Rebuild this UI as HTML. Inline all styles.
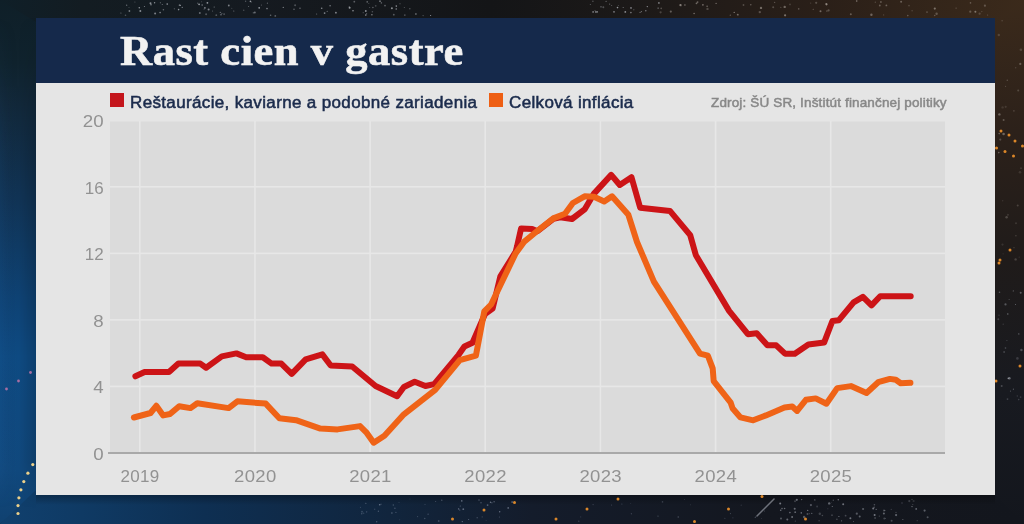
<!DOCTYPE html>
<html lang="sk"><head><meta charset="utf-8"><title>Rast cien v gastre</title>
<style>
html,body{margin:0;padding:0}
body{width:1024px;height:524px;overflow:hidden;position:relative;background:#14171f;font-family:"Liberation Sans",sans-serif}
#bg{position:absolute;left:0;top:0;width:1024px;height:524px}
#card{position:absolute;left:36px;top:18px;width:959px;height:477px;background:#e5e5e5}
#hdr{position:absolute;left:0;top:0;width:959px;height:65px;background:#15294b}
#title{position:absolute;left:84px;top:9px;margin:0;font-family:"Liberation Serif",serif;font-weight:bold;font-size:42px;line-height:48px;color:#f2f2f2;white-space:nowrap;transform-origin:0 50%;transform:scaleX(1.06);letter-spacing:0.5px;-webkit-text-stroke:0.6px #f2f2f2}
.lg{position:absolute;top:75px;font-size:17px;line-height:20px;color:#1b2b4c;white-space:nowrap;letter-spacing:0.35px;-webkit-text-stroke:0.55px #1b2b4c;transform-origin:0 50%}
.sq{position:absolute;top:75px;width:14px;height:14px}
#src{position:absolute;top:77px;left:675px;font-size:13.5px;line-height:16px;color:#888888;letter-spacing:0.15px;-webkit-text-stroke:0.5px #888888;white-space:nowrap;transform-origin:0 50%}
#chart{position:absolute;left:0;top:0;width:1024px;height:524px}
#chart text{font-family:"Liberation Sans",sans-serif;font-size:17px;fill:#929292}
</style></head><body>
<svg id="bg" viewBox="0 0 1024 524">
<defs>
<linearGradient id="gl" x1="0" y1="0" x2="0" y2="1"><stop offset="0" stop-color="#0f1f28"/><stop offset=".12" stop-color="#10232e"/><stop offset=".2" stop-color="#12283a"/><stop offset=".38" stop-color="#113456"/><stop offset=".57" stop-color="#0f4375"/><stop offset=".68" stop-color="#0f4b83"/><stop offset=".9" stop-color="#11497e"/><stop offset="1" stop-color="#104170"/></linearGradient>
<linearGradient id="glh" x1="0" y1="0" x2="1" y2="0"><stop offset="0" stop-color="#2a6cb0" stop-opacity=".08"/><stop offset=".5" stop-color="#000" stop-opacity="0"/><stop offset="1" stop-color="#000" stop-opacity=".16"/></linearGradient>
<linearGradient id="gt" x1="0" y1="0" x2="1" y2="0"><stop offset="0" stop-color="#0f1f28"/><stop offset=".08" stop-color="#131c22"/><stop offset=".25" stop-color="#151a20"/><stop offset=".48" stop-color="#141517"/><stop offset=".62" stop-color="#1c1918"/><stop offset=".8" stop-color="#2a1f18"/><stop offset="1" stop-color="#3b2a1b"/></linearGradient>
<linearGradient id="gr" x1="0" y1="0" x2="0" y2="1"><stop offset="0" stop-color="#3b2a1b"/><stop offset=".25" stop-color="#2c211a"/><stop offset=".5" stop-color="#1f1b1a"/><stop offset=".75" stop-color="#181a20"/><stop offset="1" stop-color="#13161d"/></linearGradient>
<linearGradient id="gb" x1="0" y1="0" x2="1" y2="0"><stop offset="0" stop-color="#10406e"/><stop offset=".08" stop-color="#0f3a64"/><stop offset=".2" stop-color="#0e2f52"/><stop offset=".38" stop-color="#11253d"/><stop offset=".52" stop-color="#141c2b"/><stop offset=".75" stop-color="#14171f"/><stop offset="1" stop-color="#13161d"/></linearGradient>
<linearGradient id="sh" x1="0" y1="0" x2="0" y2="1"><stop offset="0" stop-color="#000" stop-opacity=".28"/><stop offset="1" stop-color="#000" stop-opacity="0"/></linearGradient>
<linearGradient id="mkg" x1="0" y1="0" x2="0" y2="1"><stop offset="0.03" stop-color="#000"/><stop offset=".3" stop-color="#fff"/><stop offset=".88" stop-color="#fff"/><stop offset=".97" stop-color="#000"/></linearGradient>
<mask id="mk"><rect x="0" y="0" width="36" height="524" fill="url(#mkg)"/></mask>
</defs>
<rect x="0" y="0" width="1024" height="524" fill="url(#gt)"/>
<polygon points="1024,0 1024,524 990,524 990,30" fill="url(#gr)"/>
<polygon points="0,524 1024,524 1024,524 990,490 30,490" fill="url(#gb)"/>
<polygon points="0,0 36,22 36,490 0,524" fill="url(#gl)"/>
<rect x="0" y="0" width="36" height="524" fill="url(#glh)" mask="url(#mk)"/>
<rect x="36" y="495" width="959" height="10" fill="url(#sh)"/>
<circle cx="197.7" cy="3.3" r="0.8" fill="#cfd3da" opacity="0.28"/><circle cx="248.6" cy="6.5" r="0.5" fill="#cfd3da" opacity="0.48"/><circle cx="129.0" cy="7.5" r="0.5" fill="#cfd3da" opacity="0.29"/><circle cx="221.9" cy="13.4" r="0.6" fill="#cfd3da" opacity="0.35"/><circle cx="270.6" cy="15.2" r="0.8" fill="#cfd3da" opacity="0.43"/><circle cx="354.3" cy="1.7" r="0.9" fill="#cfd3da" opacity="0.38"/><circle cx="154.6" cy="2.8" r="0.7" fill="#cfd3da" opacity="0.62"/><circle cx="163.4" cy="9.7" r="0.8" fill="#cfd3da" opacity="0.42"/><circle cx="251.5" cy="1.9" r="0.5" fill="#cfd3da" opacity="0.34"/><circle cx="283.3" cy="7.4" r="0.7" fill="#cfd3da" opacity="0.51"/><circle cx="228.8" cy="5.5" r="0.9" fill="#cfd3da" opacity="0.56"/><circle cx="178.6" cy="9.6" r="0.8" fill="#cfd3da" opacity="0.64"/><circle cx="295.1" cy="5.3" r="1.0" fill="#cfd3da" opacity="0.30"/><circle cx="220.3" cy="12.4" r="0.6" fill="#cfd3da" opacity="0.47"/><circle cx="129.4" cy="11.0" r="0.9" fill="#cfd3da" opacity="0.51"/><circle cx="330.1" cy="5.7" r="0.8" fill="#cfd3da" opacity="0.52"/><circle cx="259.2" cy="7.8" r="0.9" fill="#cfd3da" opacity="0.68"/><circle cx="233.8" cy="11.0" r="0.5" fill="#cfd3da" opacity="0.57"/><circle cx="275.3" cy="15.9" r="0.9" fill="#cfd3da" opacity="0.38"/><circle cx="212.6" cy="11.0" r="0.5" fill="#cfd3da" opacity="0.46"/><circle cx="160.3" cy="2.8" r="0.5" fill="#cfd3da" opacity="0.60"/><circle cx="151.0" cy="4.7" r="0.7" fill="#cfd3da" opacity="0.64"/><circle cx="139.3" cy="7.7" r="0.8" fill="#cfd3da" opacity="0.65"/><circle cx="316.6" cy="14.0" r="0.6" fill="#cfd3da" opacity="0.44"/><circle cx="206.1" cy="14.3" r="1.0" fill="#cfd3da" opacity="0.32"/><circle cx="162.3" cy="4.5" r="0.6" fill="#cfd3da" opacity="0.47"/><circle cx="261.4" cy="4.9" r="0.5" fill="#cfd3da" opacity="0.44"/><circle cx="208.6" cy="9.5" r="1.0" fill="#cfd3da" opacity="0.56"/><circle cx="243.7" cy="10.3" r="0.8" fill="#cfd3da" opacity="0.27"/><circle cx="335.9" cy="12.7" r="0.9" fill="#cfd3da" opacity="0.61"/><circle cx="214.2" cy="7.0" r="0.6" fill="#cfd3da" opacity="0.54"/><circle cx="134.9" cy="2.0" r="0.6" fill="#cfd3da" opacity="0.32"/><circle cx="201.6" cy="1.8" r="0.5" fill="#cfd3da" opacity="0.32"/><circle cx="144.4" cy="6.5" r="0.5" fill="#cfd3da" opacity="0.64"/><circle cx="267.4" cy="3.2" r="0.6" fill="#cfd3da" opacity="0.41"/><circle cx="207.4" cy="2.8" r="0.9" fill="#cfd3da" opacity="0.70"/><circle cx="231.8" cy="8.3" r="0.5" fill="#cfd3da" opacity="0.30"/><circle cx="202.2" cy="5.0" r="0.9" fill="#cfd3da" opacity="0.32"/><circle cx="125.5" cy="15.3" r="0.8" fill="#cfd3da" opacity="0.32"/><circle cx="250.4" cy="1.4" r="0.8" fill="#cfd3da" opacity="0.69"/><circle cx="327.2" cy="11.4" r="0.6" fill="#cfd3da" opacity="0.42"/><circle cx="160.1" cy="12.6" r="0.8" fill="#cfd3da" opacity="0.60"/><circle cx="199.1" cy="4.3" r="0.9" fill="#cfd3da" opacity="0.69"/><circle cx="324.6" cy="13.1" r="0.9" fill="#cfd3da" opacity="0.58"/><circle cx="174.4" cy="8.8" r="0.7" fill="#cfd3da" opacity="0.26"/><circle cx="126.7" cy="5.2" r="0.6" fill="#cfd3da" opacity="0.56"/><circle cx="349.6" cy="7.7" r="1.0" fill="#cfd3da" opacity="0.69"/><circle cx="349.2" cy="6.5" r="0.6" fill="#cfd3da" opacity="0.35"/><circle cx="167.2" cy="4.1" r="0.8" fill="#cfd3da" opacity="0.66"/><circle cx="321.7" cy="8.2" r="0.8" fill="#cfd3da" opacity="0.61"/><circle cx="140.3" cy="10.9" r="1.0" fill="#cfd3da" opacity="0.60"/><circle cx="300.0" cy="8.2" r="0.6" fill="#cfd3da" opacity="0.61"/><circle cx="199.8" cy="13.0" r="1.0" fill="#cfd3da" opacity="0.43"/><circle cx="216.3" cy="15.2" r="0.9" fill="#cfd3da" opacity="0.33"/><circle cx="150.5" cy="3.3" r="1.0" fill="#cfd3da" opacity="0.61"/><circle cx="155.1" cy="13.4" r="1.0" fill="#cfd3da" opacity="0.55"/><circle cx="204.1" cy="9.2" r="0.6" fill="#cfd3da" opacity="0.26"/><circle cx="353.0" cy="10.7" r="0.8" fill="#cfd3da" opacity="0.67"/><circle cx="224.1" cy="14.1" r="0.9" fill="#cfd3da" opacity="0.34"/><circle cx="180.4" cy="5.4" r="0.6" fill="#cfd3da" opacity="0.51"/><circle cx="182.2" cy="7.3" r="0.6" fill="#cfd3da" opacity="0.66"/><circle cx="204.9" cy="7.9" r="0.8" fill="#cfd3da" opacity="0.66"/><circle cx="221.0" cy="14.8" r="0.8" fill="#cfd3da" opacity="0.49"/><circle cx="245.6" cy="1.3" r="0.7" fill="#cfd3da" opacity="0.33"/><circle cx="120.9" cy="13.0" r="0.6" fill="#cfd3da" opacity="0.46"/><circle cx="294.0" cy="9.3" r="0.7" fill="#cfd3da" opacity="0.48"/><circle cx="253.3" cy="12.8" r="0.6" fill="#cfd3da" opacity="0.50"/><circle cx="179.6" cy="5.2" r="0.9" fill="#cfd3da" opacity="0.48"/><circle cx="254.8" cy="12.4" r="1.0" fill="#cfd3da" opacity="0.45"/><circle cx="267.0" cy="8.6" r="0.8" fill="#cfd3da" opacity="0.56"/><circle cx="396.2" cy="9.0" r="0.7" fill="#cfd3da" opacity="0.67"/><circle cx="415.9" cy="14.1" r="1.0" fill="#cfd3da" opacity="0.37"/><circle cx="404.8" cy="15.1" r="0.9" fill="#cfd3da" opacity="0.31"/><circle cx="369.7" cy="7.6" r="0.5" fill="#cfd3da" opacity="0.36"/><circle cx="365.8" cy="11.0" r="0.9" fill="#cfd3da" opacity="0.65"/><circle cx="372.4" cy="11.7" r="0.8" fill="#cfd3da" opacity="0.31"/><circle cx="430.6" cy="15.5" r="0.6" fill="#cfd3da" opacity="0.68"/><circle cx="391.9" cy="8.3" r="1.0" fill="#cfd3da" opacity="0.62"/><circle cx="372.9" cy="7.5" r="0.8" fill="#cfd3da" opacity="0.40"/><circle cx="375.7" cy="5.8" r="0.9" fill="#cfd3da" opacity="0.26"/><circle cx="404.3" cy="7.6" r="0.5" fill="#cfd3da" opacity="0.40"/><circle cx="409.9" cy="8.7" r="0.5" fill="#cfd3da" opacity="0.69"/><circle cx="423.1" cy="15.6" r="0.6" fill="#cfd3da" opacity="0.37"/><circle cx="363.2" cy="12.7" r="0.6" fill="#cfd3da" opacity="0.31"/><circle cx="393.8" cy="14.7" r="0.9" fill="#cfd3da" opacity="0.37"/><circle cx="371.9" cy="14.8" r="0.8" fill="#cfd3da" opacity="0.57"/><circle cx="367.2" cy="1.9" r="0.8" fill="#cfd3da" opacity="0.44"/><circle cx="365.8" cy="15.1" r="0.8" fill="#cfd3da" opacity="0.61"/><circle cx="366.7" cy="13.8" r="0.5" fill="#cfd3da" opacity="0.64"/><circle cx="396.3" cy="6.1" r="0.8" fill="#cfd3da" opacity="0.67"/><circle cx="381.4" cy="2.9" r="0.8" fill="#cfd3da" opacity="0.36"/><circle cx="368.8" cy="3.4" r="0.5" fill="#cfd3da" opacity="0.34"/><circle cx="385.0" cy="5.6" r="0.9" fill="#cfd3da" opacity="0.38"/><circle cx="400.0" cy="3.7" r="0.7" fill="#cfd3da" opacity="0.26"/><circle cx="380.0" cy="1.2" r="0.9" fill="#cfd3da" opacity="0.50"/><circle cx="603.3" cy="7.2" r="1.0" fill="#cfd3da" opacity="0.30"/><circle cx="647.3" cy="6.6" r="0.7" fill="#cfd3da" opacity="0.63"/><circle cx="617.5" cy="7.6" r="0.8" fill="#cfd3da" opacity="0.69"/><circle cx="614.0" cy="11.8" r="0.9" fill="#cfd3da" opacity="0.54"/><circle cx="618.3" cy="5.5" r="0.5" fill="#cfd3da" opacity="0.31"/><circle cx="595.0" cy="10.6" r="0.6" fill="#cfd3da" opacity="0.32"/><circle cx="595.9" cy="11.9" r="0.9" fill="#cfd3da" opacity="0.55"/><circle cx="609.7" cy="4.1" r="0.6" fill="#cfd3da" opacity="0.46"/><circle cx="601.0" cy="6.8" r="0.6" fill="#cfd3da" opacity="0.68"/><circle cx="658.1" cy="8.1" r="0.6" fill="#cfd3da" opacity="0.68"/><circle cx="611.7" cy="5.6" r="0.5" fill="#cfd3da" opacity="0.42"/><circle cx="623.2" cy="7.5" r="0.6" fill="#cfd3da" opacity="0.48"/><circle cx="590.3" cy="4.4" r="0.5" fill="#cfd3da" opacity="0.43"/><circle cx="592.9" cy="1.3" r="0.7" fill="#cfd3da" opacity="0.35"/><circle cx="631.0" cy="7.9" r="0.9" fill="#cfd3da" opacity="0.55"/><circle cx="640.1" cy="12.4" r="0.7" fill="#cfd3da" opacity="0.40"/><circle cx="658.9" cy="2.9" r="0.9" fill="#cfd3da" opacity="0.54"/><circle cx="593.1" cy="11.9" r="0.9" fill="#cfd3da" opacity="0.53"/><circle cx="641.4" cy="11.6" r="0.6" fill="#cfd3da" opacity="0.49"/><circle cx="625.3" cy="11.9" r="0.9" fill="#cfd3da" opacity="0.62"/><circle cx="630.9" cy="12.6" r="0.8" fill="#cfd3da" opacity="0.56"/><circle cx="606.1" cy="1.4" r="0.6" fill="#cfd3da" opacity="0.41"/><circle cx="597.3" cy="11.9" r="0.8" fill="#cfd3da" opacity="0.53"/><circle cx="633.8" cy="9.8" r="0.7" fill="#cfd3da" opacity="0.25"/><circle cx="645.8" cy="10.7" r="0.8" fill="#cfd3da" opacity="0.49"/><circle cx="880.9" cy="2.0" r="1.0" fill="#d8d0c8" opacity="0.29"/><circle cx="684.9" cy="5.0" r="1.0" fill="#d8d0c8" opacity="0.27"/><circle cx="907.8" cy="15.6" r="0.8" fill="#d8d0c8" opacity="0.33"/><circle cx="820.5" cy="11.3" r="1.0" fill="#d8d0c8" opacity="0.42"/><circle cx="875.3" cy="2.2" r="0.6" fill="#d8d0c8" opacity="0.29"/><circle cx="909.0" cy="5.6" r="0.9" fill="#d8d0c8" opacity="0.20"/><circle cx="680.3" cy="5.0" r="1.0" fill="#d8d0c8" opacity="0.44"/><circle cx="886.4" cy="5.4" r="0.9" fill="#d8d0c8" opacity="0.36"/><circle cx="816.2" cy="2.8" r="1.1" fill="#d8d0c8" opacity="0.27"/><circle cx="987.7" cy="15.0" r="0.5" fill="#d8d0c8" opacity="0.36"/><circle cx="934.7" cy="15.5" r="0.8" fill="#d8d0c8" opacity="0.29"/><circle cx="730.3" cy="15.2" r="0.6" fill="#d8d0c8" opacity="0.40"/><circle cx="707.5" cy="8.9" r="1.2" fill="#d8d0c8" opacity="0.25"/><circle cx="934.8" cy="8.6" r="1.1" fill="#d8d0c8" opacity="0.45"/><circle cx="737.5" cy="14.5" r="0.8" fill="#d8d0c8" opacity="0.21"/><circle cx="661.2" cy="8.4" r="0.8" fill="#d8d0c8" opacity="0.31"/><circle cx="707.1" cy="6.2" r="0.7" fill="#d8d0c8" opacity="0.49"/><circle cx="660.6" cy="12.3" r="1.1" fill="#d8d0c8" opacity="0.24"/><circle cx="970.3" cy="11.7" r="1.1" fill="#d8d0c8" opacity="0.30"/><circle cx="784.7" cy="6.9" r="1.2" fill="#d8d0c8" opacity="0.41"/><circle cx="780.8" cy="7.4" r="0.7" fill="#d8d0c8" opacity="0.22"/><circle cx="694.1" cy="13.5" r="0.7" fill="#d8d0c8" opacity="0.53"/><circle cx="743.5" cy="5.0" r="0.9" fill="#d8d0c8" opacity="0.27"/><circle cx="785.1" cy="15.3" r="1.1" fill="#d8d0c8" opacity="0.48"/><circle cx="871.4" cy="14.7" r="1.2" fill="#d8d0c8" opacity="0.39"/><circle cx="901.1" cy="1.7" r="1.0" fill="#d8d0c8" opacity="0.36"/><circle cx="912.1" cy="10.7" r="0.7" fill="#d8d0c8" opacity="0.22"/><circle cx="970.5" cy="2.9" r="0.8" fill="#d8d0c8" opacity="0.32"/><circle cx="759.8" cy="12.1" r="1.2" fill="#d8d0c8" opacity="0.29"/><circle cx="879.8" cy="5.5" r="0.9" fill="#d8d0c8" opacity="0.34"/><circle cx="716.1" cy="3.4" r="0.6" fill="#d8d0c8" opacity="0.52"/><circle cx="826.5" cy="4.3" r="1.1" fill="#d8d0c8" opacity="0.55"/><circle cx="810.7" cy="3.1" r="0.6" fill="#d8d0c8" opacity="0.23"/><circle cx="774.6" cy="2.4" r="0.7" fill="#d8d0c8" opacity="0.29"/><circle cx="850.8" cy="14.3" r="1.0" fill="#d8d0c8" opacity="0.34"/><circle cx="798.7" cy="8.9" r="0.8" fill="#d8d0c8" opacity="0.32"/><circle cx="680.8" cy="5.2" r="1.2" fill="#d8d0c8" opacity="0.24"/><circle cx="828.6" cy="10.4" r="1.1" fill="#d8d0c8" opacity="0.28"/><circle cx="750.8" cy="4.7" r="0.8" fill="#d8d0c8" opacity="0.36"/><circle cx="979.6" cy="13.7" r="1.1" fill="#d8d0c8" opacity="0.21"/><circle cx="670.8" cy="11.6" r="1.1" fill="#d8d0c8" opacity="0.37"/><circle cx="856.7" cy="1.0" r="0.8" fill="#d8d0c8" opacity="0.52"/><circle cx="936.6" cy="13.8" r="1.2" fill="#d8d0c8" opacity="0.29"/><circle cx="696.5" cy="3.3" r="0.9" fill="#d8d0c8" opacity="0.44"/><circle cx="975.4" cy="11.8" r="1.0" fill="#d8d0c8" opacity="0.47"/><circle cx="813.2" cy="9.3" r="0.5" fill="#d8d0c8" opacity="0.47"/><circle cx="737.9" cy="14.8" r="1.0" fill="#d8d0c8" opacity="0.31"/><circle cx="702.9" cy="4.8" r="0.9" fill="#d8d0c8" opacity="0.44"/><circle cx="697.6" cy="2.1" r="0.9" fill="#d8d0c8" opacity="0.40"/><circle cx="790.0" cy="4.4" r="0.9" fill="#d8d0c8" opacity="0.20"/><circle cx="761.0" cy="7.9" r="1.2" fill="#d8d0c8" opacity="0.43"/><circle cx="956.1" cy="8.1" r="0.7" fill="#d8d0c8" opacity="0.29"/><circle cx="981.8" cy="11.6" r="0.7" fill="#d8d0c8" opacity="0.21"/><circle cx="826.9" cy="11.1" r="0.8" fill="#d8d0c8" opacity="0.29"/><circle cx="883.6" cy="14.9" r="0.7" fill="#d8d0c8" opacity="0.21"/><circle cx="773.2" cy="7.3" r="1.0" fill="#d8d0c8" opacity="0.27"/><circle cx="927.0" cy="12.1" r="0.9" fill="#d8d0c8" opacity="0.27"/><circle cx="984.9" cy="5.7" r="1.1" fill="#d8d0c8" opacity="0.28"/><circle cx="734.2" cy="12.4" r="0.7" fill="#d8d0c8" opacity="0.53"/><circle cx="826.1" cy="3.8" r="0.7" fill="#d8d0c8" opacity="0.35"/><circle cx="1014.0" cy="247.7" r="0.6" fill="#d8d0c8" opacity="0.23"/><circle cx="1003.1" cy="253.8" r="0.6" fill="#d8d0c8" opacity="0.13"/><circle cx="999.4" cy="114.4" r="1.2" fill="#d8d0c8" opacity="0.37"/><circle cx="1015.6" cy="259.4" r="1.2" fill="#d8d0c8" opacity="0.21"/><circle cx="1002.5" cy="244.6" r="1.1" fill="#d8d0c8" opacity="0.13"/><circle cx="1013.9" cy="110.9" r="0.8" fill="#d8d0c8" opacity="0.21"/><circle cx="1002.1" cy="20.7" r="0.7" fill="#d8d0c8" opacity="0.22"/><circle cx="1020.9" cy="49.7" r="1.3" fill="#d8d0c8" opacity="0.18"/><circle cx="1006.6" cy="217.2" r="1.2" fill="#d8d0c8" opacity="0.24"/><circle cx="999.2" cy="133.6" r="0.8" fill="#d8d0c8" opacity="0.38"/><circle cx="1002.6" cy="107.4" r="1.2" fill="#d8d0c8" opacity="0.13"/><circle cx="1007.9" cy="214.8" r="1.1" fill="#d8d0c8" opacity="0.13"/><circle cx="998.8" cy="35.0" r="1.2" fill="#d8d0c8" opacity="0.19"/><circle cx="1015.9" cy="235.7" r="0.8" fill="#d8d0c8" opacity="0.20"/><circle cx="1021.0" cy="168.1" r="0.7" fill="#d8d0c8" opacity="0.32"/><circle cx="1005.6" cy="86.2" r="0.5" fill="#d8d0c8" opacity="0.33"/><circle cx="1020.0" cy="172.2" r="1.3" fill="#d8d0c8" opacity="0.13"/><circle cx="1003.6" cy="134.0" r="1.3" fill="#d8d0c8" opacity="0.39"/><circle cx="1007.3" cy="80.3" r="0.8" fill="#d8d0c8" opacity="0.26"/><circle cx="1020.3" cy="63.9" r="1.1" fill="#d8d0c8" opacity="0.33"/><circle cx="1017.7" cy="205.5" r="1.0" fill="#d8d0c8" opacity="0.21"/><circle cx="1005.7" cy="106.8" r="1.1" fill="#d8d0c8" opacity="0.14"/><circle cx="1002.7" cy="200.7" r="0.7" fill="#d8d0c8" opacity="0.14"/><circle cx="998.8" cy="152.6" r="0.8" fill="#d8d0c8" opacity="0.39"/><circle cx="1019.2" cy="257.1" r="0.7" fill="#d8d0c8" opacity="0.14"/><circle cx="1000.3" cy="139.6" r="1.1" fill="#d8d0c8" opacity="0.25"/><circle cx="1003.6" cy="120.0" r="1.0" fill="#d8d0c8" opacity="0.31"/><circle cx="1016.0" cy="223.3" r="1.0" fill="#d8d0c8" opacity="0.15"/><circle cx="1018.2" cy="90.5" r="1.0" fill="#d8d0c8" opacity="0.22"/><circle cx="1015.7" cy="67.8" r="0.7" fill="#d8d0c8" opacity="0.19"/><circle cx="1001.7" cy="386.1" r="1.0" fill="#c8ccd6" opacity="0.26"/><circle cx="1007.5" cy="399.1" r="0.9" fill="#c8ccd6" opacity="0.23"/><circle cx="1017.4" cy="358.4" r="1.3" fill="#c8ccd6" opacity="0.19"/><circle cx="1009.4" cy="378.3" r="1.2" fill="#c8ccd6" opacity="0.47"/><circle cx="999.0" cy="315.2" r="0.6" fill="#c8ccd6" opacity="0.22"/><circle cx="1021.4" cy="350.0" r="1.2" fill="#c8ccd6" opacity="0.28"/><circle cx="1018.8" cy="333.9" r="0.7" fill="#c8ccd6" opacity="0.42"/><circle cx="1020.7" cy="292.7" r="1.0" fill="#c8ccd6" opacity="0.37"/><circle cx="1003.2" cy="324.2" r="0.6" fill="#c8ccd6" opacity="0.22"/><circle cx="1004.1" cy="351.9" r="1.0" fill="#c8ccd6" opacity="0.22"/><circle cx="998.3" cy="319.3" r="1.0" fill="#c8ccd6" opacity="0.21"/><circle cx="1005.5" cy="304.4" r="1.1" fill="#c8ccd6" opacity="0.34"/><circle cx="999.5" cy="292.2" r="0.8" fill="#c8ccd6" opacity="0.34"/><circle cx="1013.3" cy="290.9" r="0.6" fill="#c8ccd6" opacity="0.39"/><circle cx="1007.8" cy="314.0" r="0.7" fill="#c8ccd6" opacity="0.48"/><circle cx="1005.5" cy="348.0" r="0.8" fill="#c8ccd6" opacity="0.30"/><circle cx="1018.7" cy="399.6" r="0.8" fill="#c8ccd6" opacity="0.22"/><circle cx="1015.5" cy="304.4" r="0.5" fill="#c8ccd6" opacity="0.47"/><circle cx="1008.2" cy="378.4" r="0.8" fill="#c8ccd6" opacity="0.46"/><circle cx="1009.1" cy="299.5" r="0.5" fill="#c8ccd6" opacity="0.34"/><circle cx="1013.4" cy="389.2" r="0.6" fill="#c8ccd6" opacity="0.37"/><circle cx="1006.9" cy="340.5" r="0.6" fill="#c8ccd6" opacity="0.25"/><circle cx="1010.5" cy="391.1" r="0.6" fill="#c8ccd6" opacity="0.32"/><circle cx="1017.3" cy="396.0" r="0.7" fill="#c8ccd6" opacity="0.19"/><circle cx="1020.6" cy="397.1" r="0.9" fill="#c8ccd6" opacity="0.17"/><circle cx="508.2" cy="507.9" r="0.9" fill="#aeb8cc" opacity="0.45"/><circle cx="491.9" cy="502.7" r="0.8" fill="#aeb8cc" opacity="0.29"/><circle cx="424.7" cy="518.5" r="0.8" fill="#aeb8cc" opacity="0.27"/><circle cx="394.9" cy="508.2" r="0.7" fill="#aeb8cc" opacity="0.35"/><circle cx="379.7" cy="504.7" r="0.8" fill="#aeb8cc" opacity="0.56"/><circle cx="366.6" cy="511.9" r="0.8" fill="#aeb8cc" opacity="0.22"/><circle cx="494.1" cy="501.7" r="0.7" fill="#aeb8cc" opacity="0.42"/><circle cx="460.3" cy="506.0" r="0.6" fill="#aeb8cc" opacity="0.43"/><circle cx="428.1" cy="514.2" r="0.6" fill="#aeb8cc" opacity="0.38"/><circle cx="363.7" cy="513.2" r="0.6" fill="#aeb8cc" opacity="0.29"/><circle cx="482.2" cy="516.9" r="0.6" fill="#aeb8cc" opacity="0.27"/><circle cx="435.7" cy="501.5" r="0.5" fill="#aeb8cc" opacity="0.37"/><circle cx="374.7" cy="509.2" r="0.7" fill="#aeb8cc" opacity="0.22"/><circle cx="461.8" cy="500.9" r="0.8" fill="#aeb8cc" opacity="0.51"/><circle cx="441.8" cy="500.2" r="0.7" fill="#aeb8cc" opacity="0.35"/><circle cx="512.1" cy="502.1" r="0.8" fill="#aeb8cc" opacity="0.60"/><circle cx="477.1" cy="517.7" r="0.5" fill="#aeb8cc" opacity="0.59"/><circle cx="438.7" cy="521.0" r="0.9" fill="#aeb8cc" opacity="0.27"/><circle cx="486.1" cy="520.4" r="0.4" fill="#aeb8cc" opacity="0.34"/><circle cx="481.0" cy="502.7" r="0.8" fill="#aeb8cc" opacity="0.31"/><circle cx="490.5" cy="502.3" r="0.7" fill="#aeb8cc" opacity="0.57"/><circle cx="393.3" cy="505.0" r="0.7" fill="#aeb8cc" opacity="0.33"/><circle cx="365.9" cy="503.2" r="0.5" fill="#aeb8cc" opacity="0.57"/><circle cx="468.7" cy="519.6" r="0.5" fill="#aeb8cc" opacity="0.51"/><circle cx="378.4" cy="511.2" r="0.7" fill="#aeb8cc" opacity="0.34"/><circle cx="499.7" cy="511.8" r="0.7" fill="#aeb8cc" opacity="0.55"/><circle cx="376.7" cy="521.8" r="0.7" fill="#aeb8cc" opacity="0.36"/><circle cx="487.6" cy="505.1" r="0.9" fill="#aeb8cc" opacity="0.43"/><circle cx="417.6" cy="516.6" r="0.6" fill="#aeb8cc" opacity="0.27"/><circle cx="479.0" cy="500.1" r="0.8" fill="#aeb8cc" opacity="0.30"/><circle cx="462.3" cy="521.6" r="0.7" fill="#aeb8cc" opacity="0.47"/><circle cx="410.0" cy="499.0" r="0.4" fill="#aeb8cc" opacity="0.26"/><circle cx="458.6" cy="508.9" r="0.7" fill="#aeb8cc" opacity="0.56"/><circle cx="381.1" cy="504.2" r="0.7" fill="#aeb8cc" opacity="0.21"/><circle cx="360.4" cy="507.2" r="0.5" fill="#aeb8cc" opacity="0.34"/><circle cx="395.9" cy="512.4" r="0.7" fill="#aeb8cc" opacity="0.28"/><circle cx="459.8" cy="509.9" r="0.5" fill="#aeb8cc" opacity="0.57"/><circle cx="399.0" cy="502.4" r="0.4" fill="#aeb8cc" opacity="0.46"/><circle cx="499.4" cy="517.0" r="0.6" fill="#aeb8cc" opacity="0.31"/><circle cx="361.8" cy="513.8" r="0.7" fill="#aeb8cc" opacity="0.34"/><circle cx="463.3" cy="509.2" r="0.9" fill="#aeb8cc" opacity="0.49"/><circle cx="399.8" cy="519.8" r="0.4" fill="#aeb8cc" opacity="0.41"/><circle cx="425.0" cy="504.5" r="0.4" fill="#aeb8cc" opacity="0.51"/><circle cx="362.0" cy="511.7" r="0.9" fill="#aeb8cc" opacity="0.26"/><circle cx="391.9" cy="513.0" r="0.7" fill="#aeb8cc" opacity="0.46"/><circle cx="902.0" cy="503.0" r="0.7" fill="#c8ccd6" opacity="0.27"/><circle cx="787.3" cy="519.5" r="1.0" fill="#c8ccd6" opacity="0.44"/><circle cx="781.0" cy="518.4" r="1.0" fill="#c8ccd6" opacity="0.34"/><circle cx="891.3" cy="509.4" r="0.7" fill="#c8ccd6" opacity="0.19"/><circle cx="814.8" cy="499.9" r="0.7" fill="#c8ccd6" opacity="0.45"/><circle cx="884.3" cy="518.4" r="1.0" fill="#c8ccd6" opacity="0.26"/><circle cx="863.1" cy="509.0" r="1.1" fill="#c8ccd6" opacity="0.36"/><circle cx="819.8" cy="513.8" r="1.2" fill="#c8ccd6" opacity="0.24"/><circle cx="912.0" cy="499.4" r="0.7" fill="#c8ccd6" opacity="0.24"/><circle cx="891.6" cy="520.7" r="1.0" fill="#c8ccd6" opacity="0.28"/><circle cx="912.0" cy="506.6" r="0.7" fill="#c8ccd6" opacity="0.51"/><circle cx="874.6" cy="514.9" r="1.0" fill="#c8ccd6" opacity="0.54"/><circle cx="850.4" cy="518.3" r="1.0" fill="#c8ccd6" opacity="0.49"/><circle cx="845.6" cy="515.7" r="0.9" fill="#c8ccd6" opacity="0.27"/><circle cx="811.8" cy="513.3" r="0.6" fill="#c8ccd6" opacity="0.51"/><circle cx="801.7" cy="499.6" r="0.6" fill="#c8ccd6" opacity="0.52"/><circle cx="831.7" cy="502.3" r="0.5" fill="#c8ccd6" opacity="0.17"/><circle cx="883.9" cy="513.6" r="1.0" fill="#c8ccd6" opacity="0.44"/><circle cx="789.9" cy="512.6" r="0.8" fill="#c8ccd6" opacity="0.48"/><circle cx="902.9" cy="519.5" r="0.5" fill="#c8ccd6" opacity="0.50"/><circle cx="917.2" cy="520.7" r="0.6" fill="#c8ccd6" opacity="0.23"/><circle cx="796.8" cy="499.8" r="1.1" fill="#c8ccd6" opacity="0.47"/><circle cx="875.1" cy="518.0" r="0.9" fill="#c8ccd6" opacity="0.26"/><circle cx="795.0" cy="501.3" r="1.0" fill="#c8ccd6" opacity="0.23"/><circle cx="827.9" cy="508.7" r="0.5" fill="#c8ccd6" opacity="0.25"/><circle cx="822.4" cy="515.5" r="0.8" fill="#c8ccd6" opacity="0.28"/><circle cx="924.6" cy="510.6" r="1.1" fill="#c8ccd6" opacity="0.40"/><circle cx="784.6" cy="508.5" r="0.8" fill="#c8ccd6" opacity="0.46"/><circle cx="832.0" cy="515.2" r="0.9" fill="#c8ccd6" opacity="0.24"/><circle cx="909.3" cy="501.1" r="1.1" fill="#c8ccd6" opacity="0.22"/><circle cx="780.2" cy="503.6" r="1.0" fill="#c8ccd6" opacity="0.54"/><circle cx="780.7" cy="510.3" r="0.8" fill="#c8ccd6" opacity="0.47"/><circle cx="807.7" cy="510.4" r="0.7" fill="#c8ccd6" opacity="0.48"/><circle cx="819.1" cy="520.7" r="0.7" fill="#c8ccd6" opacity="0.24"/><circle cx="884.9" cy="510.5" r="0.6" fill="#c8ccd6" opacity="0.40"/><circle cx="792.1" cy="517.1" r="1.0" fill="#c8ccd6" opacity="0.46"/><circle cx="874.2" cy="507.2" r="0.8" fill="#c8ccd6" opacity="0.31"/><circle cx="913.6" cy="501.0" r="1.1" fill="#c8ccd6" opacity="0.16"/><circle cx="810.9" cy="505.1" r="1.1" fill="#c8ccd6" opacity="0.35"/><circle cx="836.9" cy="519.3" r="0.7" fill="#c8ccd6" opacity="0.33"/><circle cx="859.7" cy="516.4" r="1.0" fill="#c8ccd6" opacity="0.41"/><circle cx="832.3" cy="506.5" r="0.6" fill="#c8ccd6" opacity="0.49"/><circle cx="879.3" cy="516.1" r="0.6" fill="#c8ccd6" opacity="0.33"/><circle cx="896.0" cy="512.3" r="0.6" fill="#c8ccd6" opacity="0.33"/><circle cx="912.8" cy="504.5" r="0.6" fill="#c8ccd6" opacity="0.27"/><circle cx="885.5" cy="518.4" r="0.6" fill="#c8ccd6" opacity="0.21"/><circle cx="817.1" cy="506.5" r="0.9" fill="#c8ccd6" opacity="0.21"/><circle cx="829.2" cy="503.4" r="1.2" fill="#c8ccd6" opacity="0.44"/><circle cx="795.3" cy="521.1" r="0.6" fill="#c8ccd6" opacity="0.30"/><circle cx="927.6" cy="517.3" r="1.0" fill="#c8ccd6" opacity="0.32"/><circle cx="809.4" cy="513.7" r="0.6" fill="#c8ccd6" opacity="0.23"/><circle cx="838.3" cy="499.8" r="0.8" fill="#c8ccd6" opacity="0.47"/><circle cx="884.0" cy="510.5" r="0.9" fill="#c8ccd6" opacity="0.34"/><circle cx="801.3" cy="512.9" r="0.8" fill="#c8ccd6" opacity="0.45"/><circle cx="916.2" cy="508.9" r="0.9" fill="#c8ccd6" opacity="0.45"/><circle cx="843.2" cy="504.3" r="1.0" fill="#c8ccd6" opacity="0.50"/><circle cx="896.1" cy="515.1" r="1.1" fill="#c8ccd6" opacity="0.42"/><circle cx="876.2" cy="509.4" r="0.7" fill="#c8ccd6" opacity="0.40"/><circle cx="794.7" cy="508.7" r="1.0" fill="#c8ccd6" opacity="0.44"/><circle cx="874.4" cy="504.8" r="0.8" fill="#c8ccd6" opacity="0.33"/><circle cx="873.2" cy="508.4" r="1.0" fill="#c8ccd6" opacity="0.52"/><circle cx="807.5" cy="514.1" r="1.0" fill="#c8ccd6" opacity="0.31"/><circle cx="853.5" cy="521.4" r="0.5" fill="#c8ccd6" opacity="0.37"/><circle cx="804.1" cy="517.0" r="1.2" fill="#c8ccd6" opacity="0.36"/><circle cx="795.2" cy="512.2" r="0.9" fill="#c8ccd6" opacity="0.44"/><circle cx="856.8" cy="513.7" r="1.1" fill="#c8ccd6" opacity="0.36"/><circle cx="841.6" cy="520.8" r="0.6" fill="#c8ccd6" opacity="0.42"/><circle cx="838.9" cy="516.5" r="0.6" fill="#c8ccd6" opacity="0.54"/><circle cx="833.3" cy="500.3" r="0.7" fill="#c8ccd6" opacity="0.31"/><circle cx="782.0" cy="508.6" r="0.8" fill="#c8ccd6" opacity="0.43"/><circle cx="611.6" cy="505.1" r="0.5" fill="#aeb8cc" opacity="0.34"/><circle cx="764.4" cy="511.1" r="0.5" fill="#aeb8cc" opacity="0.35"/><circle cx="621.9" cy="503.9" r="0.5" fill="#aeb8cc" opacity="0.34"/><circle cx="730.5" cy="513.6" r="0.6" fill="#aeb8cc" opacity="0.29"/><circle cx="578.8" cy="521.2" r="0.6" fill="#aeb8cc" opacity="0.31"/><circle cx="732.9" cy="517.8" r="0.6" fill="#aeb8cc" opacity="0.22"/><circle cx="662.5" cy="501.9" r="0.8" fill="#aeb8cc" opacity="0.24"/><circle cx="741.2" cy="505.2" r="0.6" fill="#aeb8cc" opacity="0.21"/><circle cx="630.8" cy="503.3" r="0.4" fill="#aeb8cc" opacity="0.33"/><circle cx="593.1" cy="504.6" r="0.6" fill="#aeb8cc" opacity="0.27"/><circle cx="631.4" cy="513.7" r="0.7" fill="#aeb8cc" opacity="0.24"/><circle cx="761.5" cy="518.7" r="0.4" fill="#aeb8cc" opacity="0.36"/><circle cx="755.5" cy="517.0" r="0.5" fill="#aeb8cc" opacity="0.36"/><circle cx="684.6" cy="499.3" r="0.4" fill="#aeb8cc" opacity="0.39"/><circle cx="690.5" cy="504.8" r="0.5" fill="#aeb8cc" opacity="0.19"/><circle cx="580.7" cy="516.9" r="0.6" fill="#aeb8cc" opacity="0.19"/><circle cx="755.1" cy="517.2" r="0.5" fill="#aeb8cc" opacity="0.37"/><circle cx="678.2" cy="517.0" r="0.7" fill="#aeb8cc" opacity="0.37"/><circle cx="724.9" cy="518.3" r="0.5" fill="#aeb8cc" opacity="0.32"/><circle cx="658.0" cy="516.1" r="0.6" fill="#aeb8cc" opacity="0.37"/><circle cx="1001" cy="131" r="1.5" fill="#f0922a" opacity=".9"/><circle cx="1009" cy="135" r="1.5" fill="#f0922a" opacity=".9"/><circle cx="1015" cy="141" r="1.5" fill="#f0922a" opacity=".9"/><circle cx="1022.5" cy="146" r="1.5" fill="#f0922a" opacity=".9"/><circle cx="996.5" cy="148" r="1.5" fill="#f0922a" opacity=".9"/><circle cx="1005" cy="151.5" r="1.5" fill="#f0922a" opacity=".9"/><circle cx="1013.5" cy="156" r="1.5" fill="#f0922a" opacity=".9"/><circle cx="1010" cy="250" r="1.5" fill="#f0922a" opacity=".9"/><circle cx="1000" cy="260" r="1.5" fill="#f0922a" opacity=".9"/><circle cx="999" cy="263" r="1.5" fill="#f0922a" opacity=".9"/><circle cx="1020" cy="366" r="1.5" fill="#f0922a" opacity=".9"/><circle cx="996" cy="381" r="1.5" fill="#f0922a" opacity=".9"/><circle cx="514.5" cy="502.5" r="1.5" fill="#f0922a" opacity=".9"/><circle cx="587" cy="509" r="1.5" fill="#f0922a" opacity=".9"/><circle cx="618" cy="499" r="1.5" fill="#f0922a" opacity=".9"/><circle cx="556" cy="519" r="1.5" fill="#f0922a" opacity=".9"/><circle cx="728.5" cy="509" r="1.5" fill="#f0922a" opacity=".9"/><circle cx="694.5" cy="521.5" r="1.5" fill="#f0922a" opacity=".9"/><circle cx="762" cy="496.5" r="1.5" fill="#f0922a" opacity=".9"/><circle cx="805.5" cy="519" r="1.5" fill="#f0922a" opacity=".9"/><circle cx="484" cy="510" r="1.5" fill="#f0922a" opacity=".9"/><circle cx="452.5" cy="519" r="1.5" fill="#f0922a" opacity=".9"/><circle cx="32.8" cy="464.6" r="1.6" fill="#ecd08a"/><circle cx="27.9" cy="473.2" r="1.6" fill="#ecd08a"/><circle cx="23.8" cy="481.6" r="1.6" fill="#ecd08a"/><circle cx="20.9" cy="489.8" r="1.6" fill="#ecd08a"/><circle cx="18.9" cy="497.8" r="1.6" fill="#ecd08a"/><circle cx="18" cy="505.6" r="1.6" fill="#ecd08a"/><circle cx="18" cy="513.5" r="1.6" fill="#ecd08a"/><circle cx="6.5" cy="389" r="1.4" fill="#b872a6" opacity=".9"/><circle cx="18.5" cy="381" r="1.4" fill="#b872a6" opacity=".9"/><circle cx="30.5" cy="372.5" r="1.4" fill="#b872a6" opacity=".9"/><path d="M757,516 L774,499" stroke="#c8ccd6" stroke-width="1.5" opacity=".5" stroke-linecap="round"/>
</svg>
<div id="card"><div id="hdr"><h1 id="title">Rast cien v gastre</h1></div>
<span class="sq" style="left:74px;background:#c4161c"></span>
<span class="lg" id="l1" style="left:94px">Reštaurácie, kaviarne a podobné zariadenia</span>
<span class="sq" style="left:453px;background:#ee5f14"></span>
<span class="lg" id="l2" style="left:473px">Celková inflácia</span>
<span id="src">Zdroj: ŠÚ SR, Inštitút finančnej politiky</span>
</div>
<svg id="chart" viewBox="0 0 1024 524">
<rect x="110" y="121.5" width="835" height="331.5" fill="#dbdbdb"/>
<rect x="139.00" y="121" width="1.6" height="332" fill="#e7e7e7"/><rect x="254.15" y="121" width="1.6" height="332" fill="#e7e7e7"/><rect x="369.30" y="121" width="1.6" height="332" fill="#e7e7e7"/><rect x="484.45" y="121" width="1.6" height="332" fill="#e7e7e7"/><rect x="599.60" y="121" width="1.6" height="332" fill="#e7e7e7"/><rect x="714.75" y="121" width="1.6" height="332" fill="#e7e7e7"/><rect x="829.90" y="121" width="1.6" height="332" fill="#e7e7e7"/><rect x="110" y="385.65" width="835" height="1.6" fill="#e7e7e7"/><rect x="110" y="319.10" width="835" height="1.6" fill="#e7e7e7"/><rect x="110" y="252.55" width="835" height="1.6" fill="#e7e7e7"/><rect x="110" y="186.00" width="835" height="1.6" fill="#e7e7e7"/>
<rect x="108" y="452" width="837" height="2" fill="#a9a9a9"/>
<text transform="translate(140.1,481.5) scale(1.0,1)" text-anchor="middle" letter-spacing="0.3">2019</text><text transform="translate(255.3,481.5) scale(1.09,1)" text-anchor="middle" letter-spacing="0.3">2020</text><text transform="translate(370.4,481.5) scale(1.09,1)" text-anchor="middle" letter-spacing="0.3">2021</text><text transform="translate(485.6,481.5) scale(1.09,1)" text-anchor="middle" letter-spacing="0.3">2022</text><text transform="translate(600.7,481.5) scale(1.09,1)" text-anchor="middle" letter-spacing="0.3">2023</text><text transform="translate(715.8,481.5) scale(1.09,1)" text-anchor="middle" letter-spacing="0.3">2024</text><text transform="translate(831.0,481.5) scale(1.09,1)" text-anchor="middle" letter-spacing="0.3">2025</text><text transform="translate(103.6,459.8) scale(1.1,1)" text-anchor="end">0</text><text transform="translate(103.6,393.2) scale(1.1,1)" text-anchor="end">4</text><text transform="translate(103.6,326.7) scale(1.1,1)" text-anchor="end">8</text><text transform="translate(103.6,260.2) scale(1.0,1)" text-anchor="end">12</text><text transform="translate(103.6,193.6) scale(1.0,1)" text-anchor="end">16</text><text transform="translate(103.6,127.0) scale(1.1,1)" text-anchor="end">20</text>
<path d="M135.4,376.3 L144.6,372.0 L169.0,372.0 L178.4,363.6 L200.3,363.6 L206.1,367.7 L221.8,356.4 L236.4,353.4 L246.2,357.3 L262.8,357.3 L271.6,363.6 L281.3,363.6 L291.7,373.9 L305.7,359.3 L322.3,354.4 L330.7,365.5 L352.2,366.5 L375.6,386.0 L397.1,396.2 L403.9,387.0 L414.7,381.7 L425.4,386.0 L434.2,384.1 L458.6,354.8 L464.4,346.5 L472.5,342.7 L485.0,314.0 L492.6,308.6 L500.4,276.3 L515.6,251.9 L517.0,246.6 L521.1,228.4 L532.2,229.0 L537.5,231.2 L553.3,218.8 L560.3,217.3 L572.0,219.0 L584.9,209.1 L594.0,193.6 L611.2,174.9 L619.8,185.0 L631.5,177.2 L640.2,207.7 L669.9,210.9 L690.2,235.1 L695.9,255.3 L729.1,310.9 L747.9,334.2 L756.7,333.2 L767.4,345.3 L776.2,345.3 L785.0,353.7 L794.8,353.7 L808.4,344.5 L824.1,342.6 L832.4,321.0 L838.7,320.3 L853.6,302.3 L862.9,296.8 L871.5,305.4 L880.2,296.3 L910.7,296.3" fill="none" stroke="#cc1417" stroke-width="6" stroke-linecap="round" stroke-linejoin="round"/>
<path d="M133.9,417.5 L150.5,413.0 L156.3,405.8 L163.2,415.4 L170.0,414.0 L179.2,406.2 L190.5,408.1 L197.3,403.2 L228.6,408.1 L237.4,401.3 L265.7,403.6 L279.4,418.3 L296.0,420.2 L320.4,428.6 L337.5,429.4 L360.0,426.1 L366.8,432.9 L373.7,442.7 L384.4,435.8 L403.9,414.3 L435.2,389.9 L459.8,360.2 L475.9,355.6 L484.3,311.4 L491.1,304.5 L515.6,253.4 L524.0,241.9 L536.9,231.3 L553.3,218.4 L565.0,213.8 L572.9,203.0 L584.6,196.3 L594.0,196.8 L604.2,201.5 L612.0,196.3 L628.4,214.8 L637.0,242.0 L653.9,281.6 L700.0,353.7 L707.9,355.7 L712.7,368.4 L713.7,381.1 L730.7,402.7 L732.7,408.6 L740.5,417.4 L753.2,420.3 L765.9,415.4 L784.5,407.6 L792.3,406.6 L797.1,410.9 L805.9,399.8 L815.7,398.4 L826.4,403.7 L837.2,388.1 L850.9,386.1 L866.5,393.0 L878.2,382.2 L889.9,378.9 L895.8,379.7 L900.7,383.2 L910.4,382.8" fill="none" stroke="#ef6317" stroke-width="6" stroke-linecap="round" stroke-linejoin="round"/>
</svg>
</body></html>
